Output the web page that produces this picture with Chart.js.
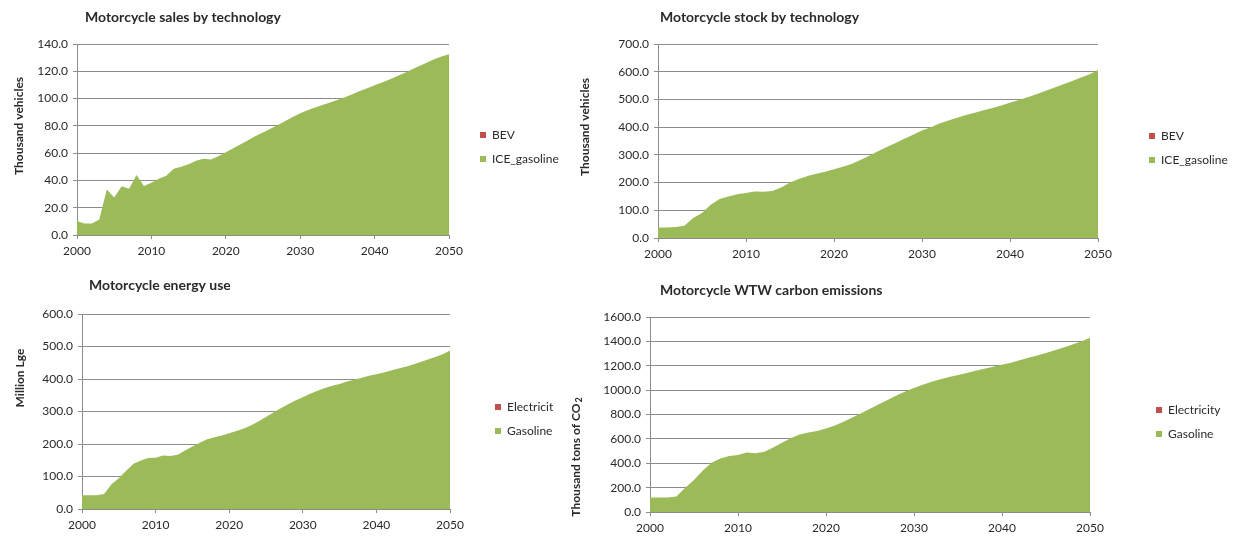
<!DOCTYPE html>
<html>
<head>
<meta charset="utf-8">
<title>Motorcycle outlook 2000-2050</title>
<script src="https://cdn.jsdelivr.net/npm/chart.js@4/dist/chart.umd.min.js"></script>
<style>
  html, body { margin: 0; padding: 0; background: #ffffff; width: 1243px; height: 539px; overflow: hidden; }
  canvas { position: absolute; }
</style>
</head>
<body>
<canvas id="sales" width="570" height="270" style="left:0px;top:0px"></canvas>
<canvas id="stock" width="673" height="270" style="left:570px;top:0px"></canvas>
<canvas id="energy" width="560" height="269" style="left:0px;top:270px"></canvas>
<canvas id="carbon" width="683" height="269" style="left:560px;top:270px"></canvas>
<script>
// ---- data -------------------------------------------------------------
const YEARS = [2000, 2001, 2002, 2003, 2004, 2005, 2006, 2007, 2008, 2009,
               2010, 2011, 2012, 2013, 2014, 2015, 2016, 2017, 2018, 2019,
               2020, 2021, 2022, 2023, 2024, 2025, 2026, 2027, 2028, 2029,
               2030, 2031, 2032, 2033, 2034, 2035, 2036, 2037, 2038, 2039,
               2040, 2041, 2042, 2043, 2044, 2045, 2046, 2047, 2048, 2049, 2050];
const X_TICKS = [2000, 2010, 2020, 2030, 2040, 2050];

// sales, thousand vehicles
const SALES_BEV = [0, 0, 0, 0, 0, 0, 0, 0, 0, 0,
                   0, 0, 0, 0, 0, 0, 0, 0, 0, 0,
                   0, 0, 0, 0, 0, 0, 0, 0, 0, 0,
                   0, 0, 0, 0, 0, 0, 0, 0, 0, 0,
                   0, 0, 0, 0, 0, 0, 0, 0, 0, 0, 0];
const SALES_ICE = [10.3, 8.4, 8.4, 11.4, 33.3, 27.4, 35.7, 33.9, 43.9, 35.9,
                   38.3, 41.3, 43.5, 48.6, 50.1, 51.8, 54.4, 55.8, 55.3, 57.7,
                   60.6, 63.5, 66.5, 69.5, 72.5, 75.2, 77.8, 80.6, 83.5, 86.5,
                   89.3, 91.5, 93.5, 95.3, 97.2, 99.0, 101.0, 103.2, 105.5, 107.5,
                   109.7, 111.8, 114.0, 116.3, 118.8, 121.3, 123.8, 126.3, 128.8, 130.8, 132.5];
const SALES_Y_TICKS = [0, 20, 40, 60, 80, 100, 120, 140];

// stock, thousand vehicles
const STOCK_BEV = [0, 0, 0, 0, 0, 0, 0, 0, 0, 0,
                   0, 0, 0, 0, 0, 0, 0, 0, 0, 0,
                   0, 0, 0, 0, 0, 0, 0, 0, 0, 0,
                   0, 0, 0, 0, 0, 0, 0, 0, 0, 0,
                   0, 0, 0, 0, 0, 0, 0, 0, 0, 0, 0];
const STOCK_ICE = [38, 38, 40, 44, 72, 90, 120, 141, 150, 158,
                   162, 168, 167, 170, 182, 200, 213, 224, 232, 239,
                   248, 257, 267, 281, 297, 313, 328, 343, 358, 373,
                   388, 400, 413, 424, 434, 444, 452, 461, 469, 478,
                   488, 498, 508, 519, 530, 542, 554, 566, 578, 590, 606];
const STOCK_Y_TICKS = [0, 100, 200, 300, 400, 500, 600, 700];

// energy use, million litres gasoline equivalent
const ENERGY_ELEC = [0, 0, 0, 0, 0, 0, 0, 0, 0, 0,
                     0, 0, 0, 0, 0, 0, 0, 0, 0, 0,
                     0, 0, 0, 0, 0, 0, 0, 0, 0, 0,
                     0, 0, 0, 0, 0, 0, 0, 0, 0, 0,
                     0, 0, 0, 0, 0, 0, 0, 0, 0, 0, 0];
const ENERGY_GAS = [42, 42, 42, 46, 76, 95, 118, 139, 149, 157,
                    158, 165, 163, 167, 180, 192, 204, 215, 221, 226,
                    233, 240, 248, 258, 270, 283, 297, 310, 322, 334,
                    344, 355, 364, 372, 379, 385, 392, 398, 404, 410,
                    415, 420, 426, 432, 438, 445, 452, 460, 468, 476, 488];
const ENERGY_Y_TICKS = [0, 100, 200, 300, 400, 500, 600];

// well-to-wheel emissions, thousand tons of CO2
const CO2_ELEC = [0, 0, 0, 0, 0, 0, 0, 0, 0, 0,
                  0, 0, 0, 0, 0, 0, 0, 0, 0, 0,
                  0, 0, 0, 0, 0, 0, 0, 0, 0, 0,
                  0, 0, 0, 0, 0, 0, 0, 0, 0, 0,
                  0, 0, 0, 0, 0, 0, 0, 0, 0, 0, 0];
const CO2_GAS = [118, 118, 118, 128, 200, 262, 340, 405, 440, 460,
                 468, 488, 483, 495, 530, 568, 605, 635, 652, 665,
                 685, 710, 740, 775, 810, 848, 885, 920, 955, 988,
                 1018, 1045, 1068, 1090, 1108, 1125, 1140, 1158, 1175, 1192,
                 1208, 1225, 1245, 1265, 1285, 1305, 1328, 1350, 1375, 1400, 1430];
const CO2_Y_TICKS = [0, 200, 400, 600, 800, 1000, 1200, 1400, 1600];

// ---- styling ----------------------------------------------------------
const FONT = 'Lato, "Open Sans", "Liberation Sans", sans-serif';
const INK = '#2a2a2a';
const GRID = '#8c8c8c';
const GREEN = '#9bbb59';
const RED = '#c0504d';
const TEXT_SIZE = 12;

Chart.defaults.font.family = FONT;
Chart.defaults.font.size = TEXT_SIZE;
Chart.defaults.color = INK;

// Places the legend block at a fixed spot beside the plot.
const legendSpot = {
  id: 'legendSpot',
  afterLayout(chart, args, o) {
    const lg = chart.legend;
    if (!lg) return;
    const pad = lg.options.labels.padding;
    lg.left = o.x - pad;
    lg.top = o.y - TEXT_SIZE / 2 - pad;
    lg.width = o.w;
    lg.height = o.h;
    lg.right = lg.left + o.w;
    lg.bottom = lg.top + o.h;
  }
};

// Chart heading and rotated value-axis caption (with optional subscript).
const captions = {
  id: 'captions',
  afterDraw(chart, args, o) {
    const ctx = chart.ctx;
    ctx.save();
    ctx.fillStyle = INK;
    ctx.textBaseline = 'middle';
    ctx.textAlign = 'left';
    ctx.font = 'bold 14px ' + FONT;
    ctx.fillText(o.title, o.titleX, o.titleY);

    ctx.translate(o.axisX, o.axisY);
    ctx.rotate(-Math.PI / 2);
    const mainFont = 'bold 12px ' + FONT;
    const subFont = 'bold 9px ' + FONT;
    ctx.font = mainFont;
    const wMain = ctx.measureText(o.axis).width;
    let wSub = 0;
    if (o.axisSub) { ctx.font = subFont; wSub = ctx.measureText(o.axisSub).width + 1; }
    const x0 = -(wMain + wSub) / 2;
    ctx.font = mainFont;
    ctx.fillText(o.axis, x0, 0);
    if (o.axisSub) {
      ctx.font = subFont;
      ctx.fillText(o.axisSub, x0 + wMain + 1, 3);
    }
    ctx.restore();
  }
};

function points(values) {
  return values.map((v, i) => ({ x: YEARS[i], y: v }));
}

function build(id, p) {
  const canvas = document.getElementById(id);
  const box = p.box;
  const yTicks = p.yTicks;
  const defaultLabels = Chart.defaults.plugins.legend.labels.generateLabels;
  return new Chart(canvas, {
    type: 'line',
    data: {
      datasets: [
        { label: p.names[1], data: points(p.lower), backgroundColor: GREEN, borderColor: GREEN,
          borderWidth: 0, fill: 'origin', pointRadius: 0, pointHoverRadius: 0, tension: 0 },
        { label: p.names[0], data: points(p.upper), backgroundColor: RED, borderColor: RED,
          borderWidth: 0, fill: '-1', pointRadius: 0, pointHoverRadius: 0, tension: 0 }
      ]
    },
    options: {
      responsive: false,
      animation: false,
      events: [],
      layout: {
        padding: {
          left: 0,
          top: p.plot.top - box.top,
          right: box.left + box.width - p.plot.right,
          bottom: 0
        }
      },
      scales: {
        x: {
          type: 'linear',
          min: X_TICKS[0],
          max: X_TICKS[X_TICKS.length - 1],
          afterBuildTicks: s => { s.ticks = X_TICKS.map(v => ({ value: v })); },
          afterFit: s => { s.height = box.top + box.height - p.plot.bottom; },
          ticks: { callback: v => String(v), padding: 5, maxRotation: 0, color: INK, font: { size: TEXT_SIZE } },
          grid: { drawOnChartArea: false, drawTicks: true, tickLength: 4, color: GRID, lineWidth: 1 },
          border: { display: true, color: GRID, width: 1 }
        },
        y: {
          stacked: true,
          min: yTicks[0],
          max: yTicks[yTicks.length - 1],
          afterBuildTicks: s => { s.ticks = yTicks.map(v => ({ value: v })); },
          afterFit: s => { s.width = p.plot.left - box.left; },
          ticks: { callback: v => Number(v).toFixed(1), padding: 5, color: INK, font: { size: TEXT_SIZE } },
          grid: { drawTicks: true, tickLength: 4, color: GRID, lineWidth: 1 },
          border: { display: true, color: GRID, width: 1 }
        }
      },
      plugins: {
        title: { display: false },
        tooltip: { enabled: false },
        legend: {
          position: 'chartArea',
          align: 'start',
          reverse: true,
          labels: {
            boxWidth: 6,
            boxHeight: 6,
            padding: 12,
            color: INK,
            font: { size: TEXT_SIZE },
            generateLabels(chart) {
              const items = defaultLabels(chart);
              if (p.legendTextWidth) {
                const ctx = chart.ctx;
                ctx.save();
                ctx.font = TEXT_SIZE + 'px ' + FONT;
                items.forEach(it => {
                  while (it.text.length > 1 && ctx.measureText(it.text).width > p.legendTextWidth) {
                    it.text = it.text.slice(0, -1);
                  }
                });
                ctx.restore();
              }
              return items;
            }
          }
        },
        legendSpot: { x: p.legend.x, y: p.legend.y, w: 170, h: 80 },
        captions: p.captions
      }
    },
    plugins: [legendSpot, captions]
  });
}

build('sales', {
  box: { left: 0, top: 0, width: 570, height: 270 },
  plot: { left: 77, right: 449, top: 44, bottom: 235 },
  yTicks: SALES_Y_TICKS,
  names: ['BEV', 'ICE_gasoline'],
  upper: SALES_BEV, lower: SALES_ICE,
  legend: { x: 480, y: 135 },
  captions: { title: 'Motorcycle sales by technology', titleX: 85, titleY: 17,
              axis: 'Thousand vehicles', axisX: 19, axisY: 126 }
});

build('stock', {
  box: { left: 570, top: 0, width: 673, height: 270 },
  plot: { left: 658, right: 1098, top: 44, bottom: 238 },
  yTicks: STOCK_Y_TICKS,
  names: ['BEV', 'ICE_gasoline'],
  upper: STOCK_BEV, lower: STOCK_ICE,
  legend: { x: 579, y: 136 },
  captions: { title: 'Motorcycle stock by technology', titleX: 90, titleY: 17,
              axis: 'Thousand vehicles', axisX: 15, axisY: 127 }
});

build('energy', {
  box: { left: 0, top: 270, width: 560, height: 269 },
  plot: { left: 82, right: 450, top: 314, bottom: 509 },
  yTicks: ENERGY_Y_TICKS,
  names: ['Electricity', 'Gasoline'],
  upper: ENERGY_ELEC, lower: ENERGY_GAS,
  legendTextWidth: 50,
  legend: { x: 495, y: 137 },
  captions: { title: 'Motorcycle energy use', titleX: 89, titleY: 15,
              axis: 'Million Lge', axisX: 20, axisY: 108 }
});

build('carbon', {
  box: { left: 560, top: 270, width: 683, height: 269 },
  plot: { left: 650, right: 1090, top: 317, bottom: 512 },
  yTicks: CO2_Y_TICKS,
  names: ['Electricity', 'Gasoline'],
  upper: CO2_ELEC, lower: CO2_GAS,
  legend: { x: 596, y: 140 },
  captions: { title: 'Motorcycle WTW carbon emissions', titleX: 100, titleY: 20,
              axis: 'Thousand tons of CO', axisSub: '2', axisX: 16, axisY: 187 }
});
</script>
</body>
</html>
